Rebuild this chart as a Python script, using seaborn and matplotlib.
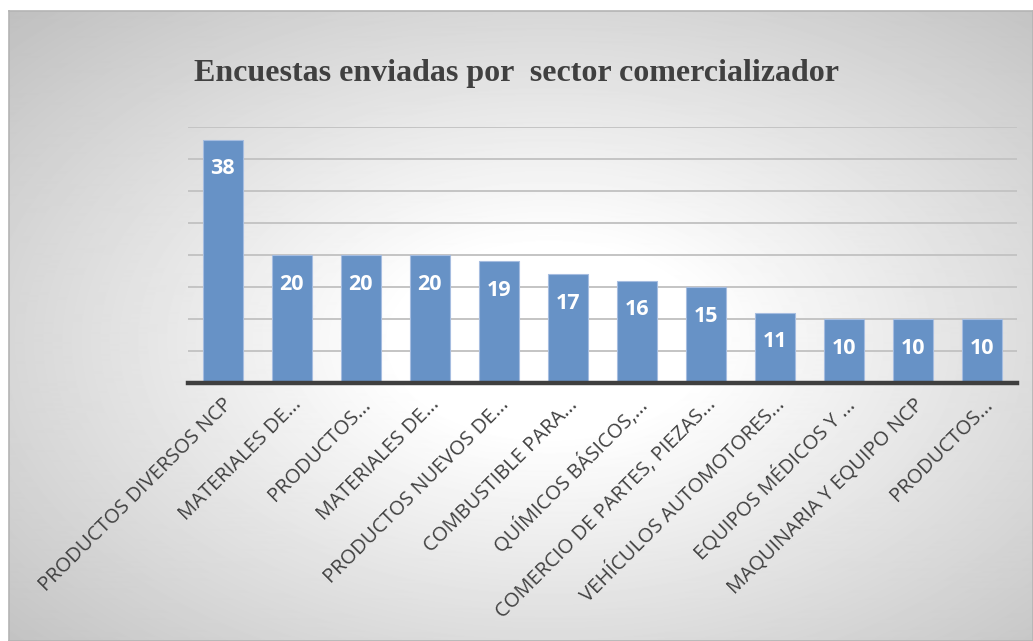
import matplotlib.pyplot as plt
import numpy as np
import pandas as pd
import seaborn as sns

# Data
sectores = [
    'PRODUCTOS DIVERSOS NCP',
    'MATERIALES DE...',
    'PRODUCTOS...',
    'MATERIALES DE...',
    'PRODUCTOS NUEVOS DE...',
    'COMBUSTIBLE PARA...',
    'QUÍMICOS BÁSICOS,...',
    'COMERCIO DE PARTES, PIEZAS...',
    'VEHÍCULOS AUTOMOTORES...',
    'EQUIPOS MÉDICOS Y ...',
    'MAQUINARIA Y EQUIPO NCP',
    'PRODUCTOS...',
]
encuestas = [38, 20, 20, 20, 19, 17, 16, 15, 11, 10, 10, 10]

df = pd.DataFrame({'pos': range(len(sectores)), 'encuestas': encuestas})

sns.set_style('white')
plt.rcParams['font.family'] = ['Open Sans', 'DejaVu Sans']

fig = plt.figure(figsize=(10.33, 6.41), dpi=100)

# radial grey background behind everything
bg = fig.add_axes([0.009, 0.0, 0.991, 0.983], zorder=-10)
h, w = 630, 1024
yy, xx = np.mgrid[0:h, 0:w]
r = np.sqrt(((xx - 540) / 512.0) ** 2 + ((yy - 330) / 315.0) ** 2)
shade = np.clip(1.0 - 0.21 * np.maximum(r - 0.3, 0), 0.75, 1.0)
bg.imshow(shade, cmap='gray', vmin=0, vmax=1, aspect='auto', interpolation='bilinear')
bg.set_xticks([])
bg.set_yticks([])
for s in bg.spines.values():
    s.set_color('#b4b4b4')
    s.set_linewidth(1.2)

ax = fig.add_axes([0.182, 0.4025, 0.8025, 0.3995])
ax.patch.set_alpha(0)

sns.barplot(data=df, x='pos', y='encuestas', ax=ax, color='#6792c6',
            width=0.58, edgecolor='#a6bde0', linewidth=0.8, saturation=1,
            zorder=2)

ax.set_ylim(0, 40)
ax.set_xlim(-0.5, len(sectores) - 0.5)
ax.set_yticks(range(5, 41, 5))
ax.yaxis.grid(True, color='#c4c4c4', linewidth=1.4, zorder=1)
ax.set_axisbelow(True)
ax.tick_params(axis='y', left=False, labelleft=False)
ax.tick_params(axis='x', bottom=False, pad=5)

for side in ['top', 'right', 'left']:
    ax.spines[side].set_visible(False)
ax.spines['bottom'].set_color('#3f3f3f')
ax.spines['bottom'].set_linewidth(3.2)

ax.set_xticks(range(len(sectores)))
ax.set_xticklabels(sectores, rotation=45, ha='right', rotation_mode='anchor',
                   fontsize=14.5, color='#404040')
ax.set_xlabel('')
ax.set_ylabel('')

# value labels inside the bars
for i, v in enumerate(encuestas):
    ax.annotate(str(v), (i, v), xytext=(0, -13.5), textcoords='offset points',
                ha='center', va='top', color='white', fontsize=15.5,
                fontweight='bold', zorder=5)

fig.text(0.50, 0.886, 'Encuestas enviadas por  sector comercializador',
         ha='center', va='center', fontsize=23, fontweight='bold',
         family=['Liberation Serif', 'DejaVu Serif'], color='#404040')

fig.savefig('out.png', dpi=100)
